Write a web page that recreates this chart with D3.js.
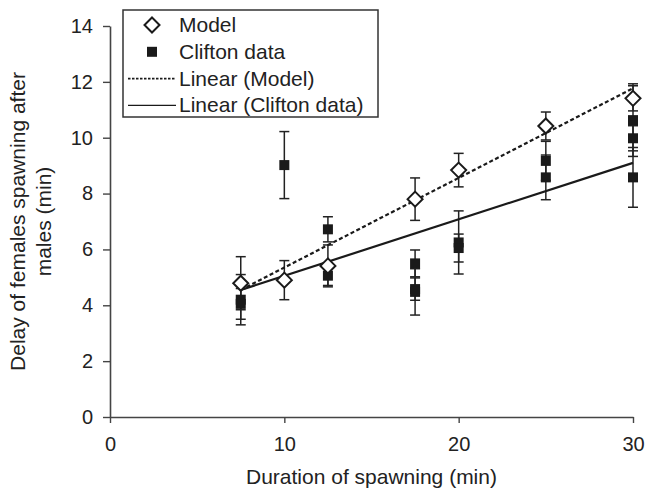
<!DOCTYPE html>
<html>
<head>
<meta charset="utf-8">
<script src="https://cdn.jsdelivr.net/npm/d3@7"></script>
<style>
	body { margin: 0; background: #fff; }
	svg { display: block; font-family: "Liberation Sans", Arial, sans-serif; }
</style>
</head>
<body>
<div id="wrapper"></div>
<script>

// data

const durations = [7.5, 10, 12.5, 17.5, 20, 25, 30];
const modelDelay = [4.79, 4.90, 5.41, 7.80, 8.84, 10.42, 11.41];
const modelErr = [0.95, 0.70, 0.75, 0.76, 0.60, 0.50, 0.45];

const cliftonDuration = [7.5, 7.5, 10, 12.5, 12.5, 17.5, 17.5, 17.5, 20, 20, 25, 25, 30, 30, 30];
const cliftonDelay = [4.20, 4.05, 9.02, 6.72, 5.06, 5.50, 4.58, 4.48, 6.25, 6.05, 9.17, 8.58, 10.63, 9.98, 8.58];
const cliftonErr = [0.90, 0.55, 1.20, 0.45, 0.35, 0.48, 0.40, 0.83, 1.13, 0.50, 0.70, 0.80, 1.30, 0.45, 1.07];

const trendX = [7.5, 30];
const modelTrendY = [4.55, 11.77];
const cliftonTrendY = [4.55, 9.10];

const xTicks = [0, 10, 20, 30];
const yTicks = [0, 2, 4, 6, 8, 10, 12, 14];
const legendLabels = ["Model", "Clifton data", "Linear (Model)", "Linear (Clifton data)"];

function drawChart() {

	// 1. dimensions

	let dimensions = {
		width: 646,
		height: 488,
		margin: {
			top: 26,
			right: 13,
			bottom: 71,
			left: 110
		}
	};
	dimensions.boundedWidth = dimensions.width - dimensions.margin.left - dimensions.margin.right;
	dimensions.boundedHeight = dimensions.height - dimensions.margin.top - dimensions.margin.bottom;

	// 2. canvas

	const wrapper = d3.select("#wrapper")
						.append("svg")
						.attr("width", dimensions.width)
						.attr("height", dimensions.height);
	const bounds = wrapper.append("g")
						.attr("transform", `translate(${dimensions.margin.left},${dimensions.margin.top})`);

	// 3. scales

	const xScale = d3.scaleLinear()
						.domain([0, 30])
						.range([0, dimensions.boundedWidth]);
	const yScale = d3.scaleLinear()
						.domain([0, 14])
						.range([dimensions.boundedHeight, 0]);

	const model = durations.map((d, i) => ({x: d, y: modelDelay[i], e: modelErr[i]}));
	const clifton = cliftonDuration.map((d, i) => ({x: d, y: cliftonDelay[i], e: cliftonErr[i]}));

	// 4. axes

	const xAxis = bounds.append("g")
						.attr("transform", `translate(0,${dimensions.boundedHeight})`)
						.call(d3.axisBottom(xScale).tickValues(xTicks).tickSize(6).tickPadding(14).tickSizeOuter(0));
	const yAxis = bounds.append("g")
						.call(d3.axisLeft(yScale).tickValues(yTicks).tickSize(7).tickPadding(10).tickSizeOuter(0));

	[xAxis, yAxis].forEach(a => {
		a.select(".domain").attr("stroke", "#444").attr("stroke-width", 1.6);
		a.selectAll(".tick line").attr("stroke", "#444").attr("stroke-width", 1.4);
		a.selectAll(".tick text")
			.attr("fill", "#222")
			.style("font-size", "20px")
			.style("font-family", "'Liberation Sans', Arial, sans-serif");
	});

	wrapper.append("text")
			.attr("x", dimensions.margin.left + dimensions.boundedWidth / 2)
			.attr("y", 484)
			.attr("text-anchor", "middle")
			.attr("fill", "#222")
			.style("font-size", "21px")
			.text("Duration of spawning (min)");

	const yLabel = wrapper.append("text")
			.attr("transform", `translate(0,${dimensions.margin.top + dimensions.boundedHeight / 2}) rotate(-90)`)
			.attr("text-anchor", "middle")
			.attr("fill", "#222")
			.style("font-size", "21px");
	yLabel.append("tspan").attr("x", 0).attr("y", 25).text("Delay of females spawning after");
	yLabel.append("tspan").attr("x", 0).attr("y", 51).text("males (min)");

	// 5. error bars

	const capW = 5;
	const errs = bounds.append("g")
						.attr("stroke", "#222")
						.attr("stroke-width", 1.5)
						.selectAll("g")
						.data(clifton.concat(model))
						.join("g");
	errs.append("line")
		.attr("x1", d => xScale(d.x)).attr("x2", d => xScale(d.x))
		.attr("y1", d => yScale(d.y + d.e)).attr("y2", d => yScale(d.y - d.e));
	errs.append("line")
		.attr("x1", d => xScale(d.x) - capW).attr("x2", d => xScale(d.x) + capW)
		.attr("y1", d => yScale(d.y + d.e)).attr("y2", d => yScale(d.y + d.e));
	errs.append("line")
		.attr("x1", d => xScale(d.x) - capW).attr("x2", d => xScale(d.x) + capW)
		.attr("y1", d => yScale(d.y - d.e)).attr("y2", d => yScale(d.y - d.e));

	// 6. trend lines

	const lineGenerator = d3.line()
							.x(d => xScale(d[0]))
							.y(d => yScale(d[1]));

	bounds.append("path")
			.datum(trendX.map((x, i) => [x, cliftonTrendY[i]]))
			.attr("d", lineGenerator)
			.attr("fill", "none")
			.attr("stroke", "#1a1a1a")
			.attr("stroke-width", 2.2);

	bounds.append("path")
			.datum(trendX.map((x, i) => [x, modelTrendY[i]]))
			.attr("d", lineGenerator)
			.attr("fill", "none")
			.attr("stroke", "#1a1a1a")
			.attr("stroke-width", 2.2)
			.attr("stroke-dasharray", "4,2.5");

	// 7. markers

	const sq = 10;
	bounds.append("g")
			.selectAll("rect")
			.data(clifton)
			.join("rect")
			.attr("x", d => xScale(d.x) - sq / 2)
			.attr("y", d => yScale(d.y) - sq / 2)
			.attr("width", sq)
			.attr("height", sq)
			.attr("fill", "#1a1a1a");

	const diamond = r => `M0,${-r}L${r},0L0,${r}L${-r},0Z`;
	bounds.append("g")
			.selectAll("path")
			.data(model)
			.join("path")
			.attr("transform", d => `translate(${xScale(d.x)},${yScale(d.y)})`)
			.attr("d", diamond(7.5))
			.attr("fill", "white")
			.attr("stroke", "#1a1a1a")
			.attr("stroke-width", 2);

	// 8. legend

	const legend = wrapper.append("g");
	legend.append("rect")
			.attr("x", 123)
			.attr("y", 10)
			.attr("width", 255)
			.attr("height", 107)
			.attr("fill", "white")
			.attr("stroke", "#333")
			.attr("stroke-width", 1.5);

	const rowY = i => 25 + i * 26.8;
	legend.append("path")
			.attr("transform", `translate(152,${rowY(0)})`)
			.attr("d", diamond(7.5))
			.attr("fill", "white")
			.attr("stroke", "#1a1a1a")
			.attr("stroke-width", 2);
	legend.append("rect")
			.attr("x", 152 - sq / 2)
			.attr("y", rowY(1) - sq / 2)
			.attr("width", sq)
			.attr("height", sq)
			.attr("fill", "#1a1a1a");
	legend.append("line")
			.attr("x1", 128).attr("x2", 175)
			.attr("y1", rowY(2)).attr("y2", rowY(2))
			.attr("stroke", "#1a1a1a")
			.attr("stroke-width", 1.6)
			.attr("stroke-dasharray", "2.5,1.5");
	legend.append("line")
			.attr("x1", 128).attr("x2", 176)
			.attr("y1", rowY(3)).attr("y2", rowY(3))
			.attr("stroke", "#1a1a1a")
			.attr("stroke-width", 1.4);

	legend.selectAll(".legend-text")
			.data(legendLabels)
			.join("text")
			.attr("class", "legend-text")
			.attr("x", 179)
			.attr("y", (d, i) => rowY(i) + 7)
			.attr("fill", "#222")
			.style("font-size", "21px")
			.text(d => d);
}

drawChart();
</script>
</body>
</html>
